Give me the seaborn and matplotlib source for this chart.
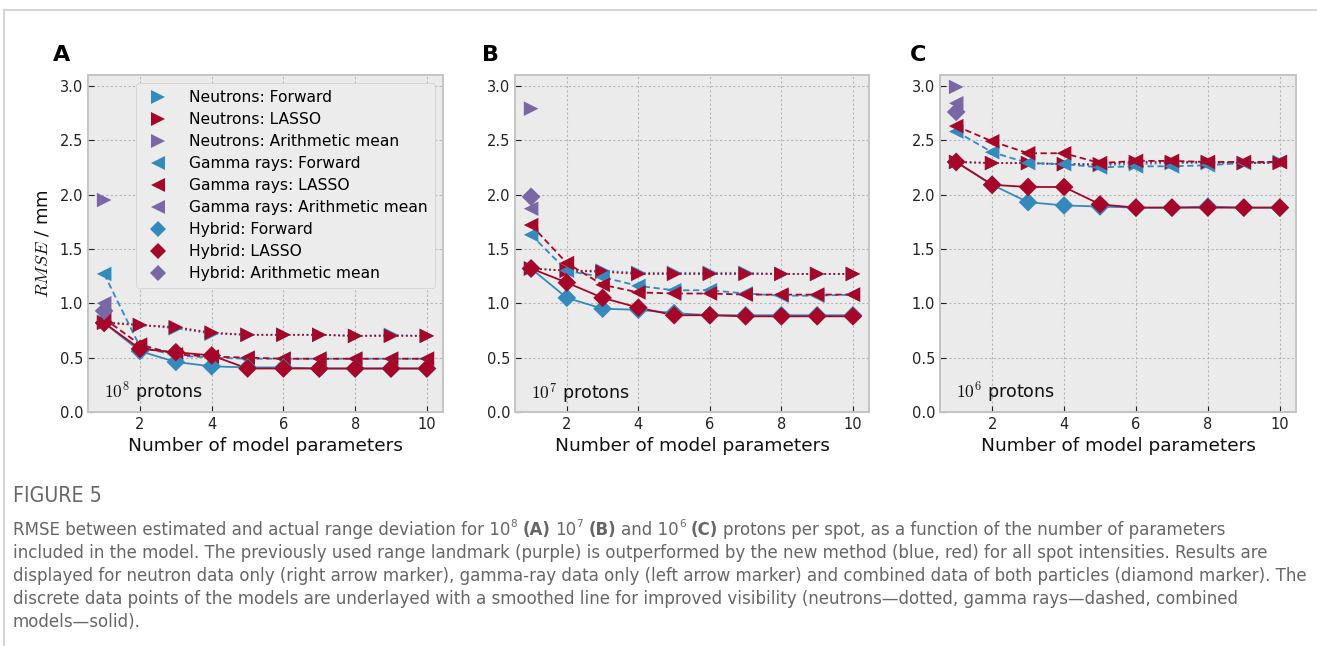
import numpy as np
import pandas as pd
import matplotlib
matplotlib.use("Agg")
import matplotlib.pyplot as plt
import seaborn as sns
from matplotlib.lines import Line2D
from matplotlib import font_manager as fm

# ---------------- data ----------------
n_params = [1, 2, 3, 4, 5, 6, 7, 8, 9, 10]

A_neu_fwd   = [0.83, 0.80, 0.77, 0.72, 0.71, 0.71, 0.71, 0.70, 0.71, 0.70]
A_neu_lasso = [0.82, 0.80, 0.78, 0.73, 0.71, 0.71, 0.71, 0.70, 0.70, 0.70]
A_gam_fwd   = [1.27, 0.60, 0.52, 0.50, 0.49, 0.49, 0.49, 0.49, 0.49, 0.49]
A_gam_lasso = [0.86, 0.62, 0.53, 0.51, 0.50, 0.49, 0.49, 0.49, 0.49, 0.49]
A_hyb_fwd   = [0.82, 0.56, 0.46, 0.42, 0.41, 0.41, 0.40, 0.40, 0.40, 0.40]
A_hyb_lasso = [0.82, 0.58, 0.55, 0.52, 0.40, 0.40, 0.40, 0.40, 0.40, 0.40]
A_mean      = [1.95, 1.00, 0.93]   # neutrons, gamma rays, hybrid

B_neu_fwd   = [1.32, 1.30, 1.30, 1.28, 1.28, 1.28, 1.28, 1.27, 1.27, 1.27]
B_neu_lasso = [1.32, 1.30, 1.29, 1.27, 1.27, 1.27, 1.27, 1.27, 1.27, 1.27]
B_gam_fwd   = [1.63, 1.30, 1.24, 1.16, 1.12, 1.12, 1.09, 1.07, 1.07, 1.08]
B_gam_lasso = [1.72, 1.37, 1.17, 1.10, 1.09, 1.09, 1.08, 1.08, 1.08, 1.08]
B_hyb_fwd   = [1.32, 1.05, 0.95, 0.94, 0.91, 0.89, 0.89, 0.89, 0.89, 0.89]
B_hyb_lasso = [1.32, 1.19, 1.05, 0.96, 0.89, 0.89, 0.88, 0.88, 0.88, 0.88]
B_mean      = [2.79, 1.87, 1.98]

C_neu_fwd   = [2.30, 2.29, 2.29, 2.28, 2.27, 2.28, 2.29, 2.29, 2.29, 2.30]
C_neu_lasso = [2.30, 2.29, 2.29, 2.28, 2.28, 2.30, 2.30, 2.30, 2.29, 2.29]
C_gam_fwd   = [2.58, 2.39, 2.29, 2.28, 2.25, 2.26, 2.26, 2.27, 2.29, 2.30]
C_gam_lasso = [2.63, 2.49, 2.38, 2.38, 2.29, 2.31, 2.31, 2.30, 2.30, 2.30]
C_hyb_fwd   = [2.30, 2.09, 1.93, 1.90, 1.89, 1.88, 1.88, 1.89, 1.88, 1.88]
C_hyb_lasso = [2.30, 2.09, 2.07, 2.07, 1.91, 1.88, 1.88, 1.88, 1.88, 1.88]
C_mean      = [2.99, 2.84, 2.76]

panel_letters = ["A", "B", "C"]
panel_exponents = ["8", "7", "6"]
particles = ["Neutrons", "Gamma rays", "Hybrid"]
methods = ["Forward", "LASSO", "Arithmetic mean"]
x_ticks = [2, 4, 6, 8, 10]
y_ticks = [0.0, 0.5, 1.0, 1.5, 2.0, 2.5, 3.0]

panel_series = {
    "A": {("Neutrons", "Forward"): A_neu_fwd, ("Neutrons", "LASSO"): A_neu_lasso,
          ("Gamma rays", "Forward"): A_gam_fwd, ("Gamma rays", "LASSO"): A_gam_lasso,
          ("Hybrid", "Forward"): A_hyb_fwd, ("Hybrid", "LASSO"): A_hyb_lasso},
    "B": {("Neutrons", "Forward"): B_neu_fwd, ("Neutrons", "LASSO"): B_neu_lasso,
          ("Gamma rays", "Forward"): B_gam_fwd, ("Gamma rays", "LASSO"): B_gam_lasso,
          ("Hybrid", "Forward"): B_hyb_fwd, ("Hybrid", "LASSO"): B_hyb_lasso},
    "C": {("Neutrons", "Forward"): C_neu_fwd, ("Neutrons", "LASSO"): C_neu_lasso,
          ("Gamma rays", "Forward"): C_gam_fwd, ("Gamma rays", "LASSO"): C_gam_lasso,
          ("Hybrid", "Forward"): C_hyb_fwd, ("Hybrid", "LASSO"): C_hyb_lasso},
}
panel_means = {"A": A_mean, "B": B_mean, "C": C_mean}

rows = []
for p, d in panel_series.items():
    for (part, meth), vals in d.items():
        for x, v in zip(n_params, vals):
            rows.append(dict(panel=p, particle=part, method=meth, params=x, rmse=v))
    for part, v in zip(particles, panel_means[p]):
        rows.append(dict(panel=p, particle=part, method="Arithmetic mean", params=n_params[0], rmse=v))
df = pd.DataFrame(rows)

# ---------------- style ----------------
plt.style.use("bmh")
plt.rcParams.update({
    "mathtext.fontset": "cm",
    "font.family": ["DejaVu Sans"],
    "axes.facecolor": "#ebebeb",
    "axes.edgecolor": "#c4c4c4",
    "axes.linewidth": 1.4,
    "grid.color": "#b5b5b5",
    "grid.linestyle": (0, (2, 2)),
    "grid.linewidth": 0.8,
    "xtick.direction": "in",
    "ytick.direction": "in",
    "xtick.major.size": 4,
    "ytick.major.size": 4,
    "xtick.color": "#222222",
    "ytick.color": "#222222",
    "xtick.labelsize": 10.5,
    "ytick.labelsize": 10.5,
    "figure.facecolor": "white",
})

colors = {"Forward": "#348ABD", "LASSO": "#A60628", "Arithmetic mean": "#7A68A6"}
line_styles = {"Neutrons": (0, (1, 1.5)), "Gamma rays": (0, (3.5, 2)), "Hybrid": "-"}
markers = {"Neutrons": ">", "Gamma rays": "<", "Hybrid": "D"}
marker_sizes = {"Neutrons": 10.5, "Gamma rays": 10.5, "Hybrid": 9.5}
legend_sizes = {"Neutrons": 9.5, "Gamma rays": 9.5, "Hybrid": 8.5}

W, H = 1317, 646
fig = plt.figure(figsize=(W / 100, H / 100), dpi=100)

axes_px = [(88, 443), (515, 869), (940, 1296)]
top_px, bot_px = 75, 412
label_x_px = [62, 490, 918]

for i, p in enumerate(panel_letters):
    l, r = axes_px[i]
    ax = fig.add_axes([l / W, 1 - bot_px / H, (r - l) / W, (bot_px - top_px) / H])
    sub = df[df.panel == p]
    # smoothed-line underlay
    for part in particles:
        for meth in ["Forward", "LASSO"]:
            s = sub[(sub.particle == part) & (sub.method == meth)]
            sns.lineplot(data=s, x="params", y="rmse", ax=ax, color=colors[meth],
                         linestyle=line_styles[part], linewidth=1.3, errorbar=None,
                         legend=False, zorder=2)
    # markers
    for part in particles:
        for meth in methods:
            s = sub[(sub.particle == part) & (sub.method == meth)]
            sns.scatterplot(data=s, x="params", y="rmse", ax=ax, color=colors[meth],
                            marker=markers[part], s=marker_sizes[part] ** 2,
                            linewidth=0, edgecolor="none", legend=False, zorder=3)
    ax.set_xlim(0.55, 10.45)
    ax.set_ylim(0, 3.1)
    ax.set_xticks(x_ticks)
    ax.set_yticks(y_ticks)
    ax.set_yticklabels([f"{t:.1f}" for t in y_ticks])
    ax.grid(True)
    ax.set_axisbelow(True)
    ax.set_xlabel("Number of model parameters", fontsize=13.3, color="#111111", labelpad=4)
    if i == 0:
        ax.set_ylabel("$RMSE$ / mm", fontsize=13, color="#111111", labelpad=6)
    else:
        ax.set_ylabel("")
    ax.text(0.045, 0.02, "$10^{" + panel_exponents[i] + "}$ protons", transform=ax.transAxes,
            fontsize=12.6, color="#111111", ha="left", va="bottom")
    fig.text(label_x_px[i] / W, 1 - 55 / H, p, fontsize=16, fontweight="bold",
             ha="center", va="center", color="black")
    if i == 0:
        handles = []
        labels = []
        for part in particles:
            for meth in methods:
                handles.append(Line2D([], [], linestyle="none", marker=markers[part],
                                      color=colors[meth], markersize=legend_sizes[part],
                                      markeredgewidth=0))
                labels.append(f"{part}: {meth}")
        leg = ax.legend(handles, labels, loc="upper right", bbox_to_anchor=(0.978, 0.976),
                        borderaxespad=0, fontsize=11.2, frameon=True, fancybox=True,
                        labelspacing=0.45, handletextpad=1.0, borderpad=0.45)
        leg.get_frame().set_facecolor("#ececec")
        leg.get_frame().set_edgecolor("#cfcfcf")
        leg.get_frame().set_alpha(1)

# ---------------- border ----------------
fig.add_artist(Line2D([4 / W, 4 / W], [0, 1 - 10 / H], transform=fig.transFigure,
                      color="#d6d6d6", linewidth=1.5))
fig.add_artist(Line2D([4 / W, 1], [1 - 10 / H, 1 - 10 / H], transform=fig.transFigure,
                      color="#d6d6d6", linewidth=1.5))

# ---------------- caption ----------------
names = {f.name for f in fm.fontManager.ttflist}
if "Liberation Sans Narrow" in names:
    cap_font = dict(family="Liberation Sans Narrow")
else:
    cap_font = dict(family="DejaVu Sans", stretch="condensed")
cap_color = "#666666"

renderer = fig.canvas.get_renderer()


def text_width(s, fs, weight="normal"):
    t = fig.text(0, 0, s, fontsize=fs, fontweight=weight, **cap_font)
    w = t.get_window_extent(renderer).width
    t.remove()
    return w


def draw_rich(x_px, base_px, pieces, fs):
    sp = text_width("a a", fs) - text_width("aa", fs)
    x = x_px
    for txt, kind in pieces:
        lead = len(txt) - len(txt.lstrip(" "))
        trail = len(txt) - len(txt.rstrip(" "))
        x += lead * sp
        core = txt.strip(" ")
        if core:
            size = fs * 0.62 if kind == "sup" else fs
            yoff = fs * 100 / 72 * 0.42 if kind == "sup" else 0
            weight = "bold" if kind == "b" else "normal"
            t = fig.text(x / W, 1 - (base_px - yoff) / H, core, fontsize=size,
                         fontweight=weight, color=cap_color, ha="left", va="baseline",
                         **cap_font)
            x += t.get_window_extent(renderer).width
        x += trail * sp


cap_lines = [
    [("RMSE between estimated and actual range deviation for 10", "n"), ("8", "sup"),
     (" (A)", "b"), (" 10", "n"), ("7", "sup"), (" (B)", "b"), (" and 10", "n"),
     ("6", "sup"), (" (C)", "b"),
     (" protons per spot, as a function of the number of parameters", "n")],
    [("included in the model. The previously used range landmark (purple) is outperformed "
      "by the new method (blue, red) for all spot intensities. Results are", "n")],
    [("displayed for neutron data only (right arrow marker), gamma-ray data only (left arrow "
      "marker) and combined data of both particles (diamond marker). The", "n")],
    [("discrete data points of the models are underlayed with a smoothed line for improved "
      "visibility (neutrons\u2014dotted, gamma rays\u2014dashed, combined", "n")],
    [("models\u2014solid).", "n")],
]

w_ref = max(text_width(cap_lines[k][0][0], 12) for k in (1, 2, 3))
cap_fs = 12 * (1294 / w_ref)

fig.text(13 / W, 1 - 502 / H, "FIGURE 5", fontsize=cap_fs * 1.15, color=cap_color,
         ha="left", va="baseline", **cap_font)
baselines = [535, 558, 581, 604, 627]
for pieces, b in zip(cap_lines, baselines):
    draw_rich(13, b, pieces, cap_fs)

fig.savefig("out.png", dpi=100)
